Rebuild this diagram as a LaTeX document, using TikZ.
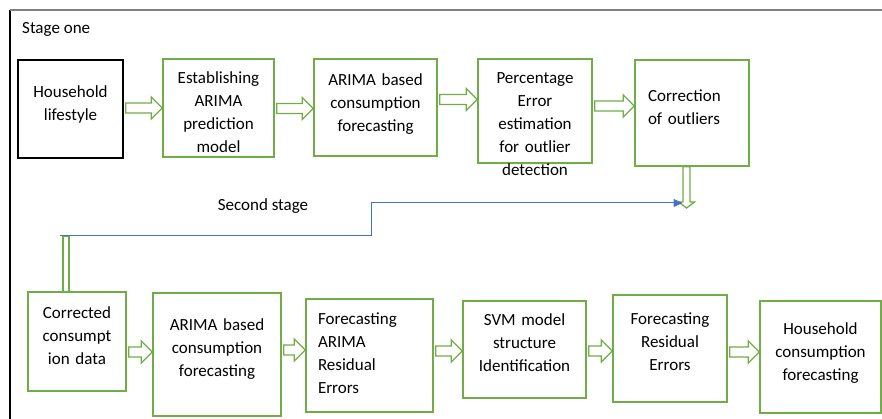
\documentclass[tikz,border=0pt]{standalone}
\usepackage{fontspec}
\setmainfont{Carlito}
\usetikzlibrary{calc, arrows.meta}
\definecolor{boxgreen}{HTML}{70AD47}
\definecolor{linkblue}{HTML}{4472C4}
\tikzset{
    gBox/.style={rectangle, draw=boxgreen, line width=1.6pt, inner sep=0pt, align=center, font=\fontsize{17}{23}\selectfont},
    kBox/.style={gBox, draw=black},
    hollow/.style={draw=boxgreen, line width=1.3pt, line join=miter},
    link/.style={draw=linkblue, line width=1pt, -{Triangle[length=9pt, width=8pt]}},
    label/.style={font=\fontsize{17}{23}\selectfont, inner sep=0pt}
}
% hollow block arrow between two boxes, shaft at height #3
\newcommand{\blockarrow}[3]{%
    \draw[hollow] let \p1=(#1.east), \p2=(#2.west), \p3=(0,#3) in
        (\x1+2pt,\y3-5pt) -- (\x2-11pt,\y3-5pt) -- (\x2-11pt,\y3-11pt) -- (\x2,\y3)
        -- (\x2-11pt,\y3+11pt) -- (\x2-11pt,\y3+5pt) -- (\x1+2pt,\y3+5pt) -- cycle;}

\begin{document}
\begin{tikzpicture}[x=1pt, y=-1pt]
    \useasboundingbox (0,0) rectangle (882,419);

    % frame
    \draw[black, line width=1.2pt] (10,10) -- (10,420);
    \draw[gray, line width=1.4pt] (10,10) -- (882,10);

    \node (stage1) [label, anchor=west] at (22,29) {Stage one};
    \node (stage2) [label] at (263,206) {Second stage};

    % stage one
    \node (life) [kBox, text width=105pt, text height=37.5pt, text depth=60.5pt] at (70.5,109) {Household\\lifestyle};
    \node (est) [gBox, text width=111pt, text height=24.5pt, text depth=73.5pt] at (218.5,108) {Establishing\\ARIMA\\prediction\\model};
    \node (arima1) [gBox, text width=123pt, text height=26.5pt, text depth=70.5pt] at (375.5,107.5) {ARIMA based\\consumption\\forecasting};
    \node (pct) [gBox, text width=114pt, text height=24.5pt, text depth=79.5pt] at (535,111) {Percentage\\Error\\estimation\\for outlier\\detection};
    \node (corr) [gBox, align=left, inner xsep=13pt, text width=88pt, text height=41.5pt, text depth=64.5pt] at (692,113) {Correction\\of outliers};

    % second stage
    \node (corrd) [gBox, text width=98pt, text height=26.5pt, text depth=72.5pt] at (77,341.5) {Corrected\\consumpt\\ion data};
    \node (arima2) [gBox, text width=128pt, text height=37.5pt, text depth=85.5pt] at (217,354.5) {ARIMA based\\consumption\\forecasting};
    \node (fcarima) [gBox, align=left, inner xsep=12pt, text width=103pt, text height=25.5pt, text depth=87.5pt] at (369.5,355.5) {Forecasting\\ARIMA\\Residual\\Errors};
    \node (svm) [gBox, text width=123pt, text height=24.5pt, text depth=72.5pt] at (524.5,349.5) {SVM model\\structure\\Identification};
    \node (fcres) [gBox, text width=114pt, text height=29.5pt, text depth=77.5pt] at (670,348.5) {Forecasting\\Residual\\Errors};
    \node (hh) [gBox, text width=121pt, text height=33.5pt, text depth=78.5pt] at (820.5,357) {Household\\consumption\\forecasting};

    \blockarrow{life}{est}{108}
    \blockarrow{est}{arima1}{108.5}
    \blockarrow{arima1}{pct}{99.5}
    \blockarrow{pct}{corr}{106}
    \blockarrow{corrd}{arima2}{352}
    \blockarrow{arima2}{fcarima}{350}
    \blockarrow{fcarima}{svm}{351}
    \blockarrow{svm}{fcres}{351}
    \blockarrow{fcres}{hh}{352}

    % hand-over between the two stages
    \coordinate (drop) at (686.5,208);
    \coordinate (bend) at (66,236);
    \coordinate (start) at (60,236);
    \draw[hollow] let \p1=(drop |- corr.south), \p2=(drop) in
        (\x1-3.5pt,\y1) -- (\x1-3.5pt,\y2+6pt) -- (\x1-8pt,\y2+6pt) -- (\x2,\y2)
        -- (\x1+8pt,\y2+6pt) -- (\x1+3.5pt,\y2+6pt) -- (\x1+3.5pt,\y1) -- cycle;
    \draw[hollow] ([xshift=-3pt]bend) rectangle ([xshift=3pt]bend |- corrd.north);
    \draw[link] (start) -- (371,236) -- (371,203) -- ([xshift=-4pt,yshift=5pt]drop);

\end{tikzpicture}
\end{document}
